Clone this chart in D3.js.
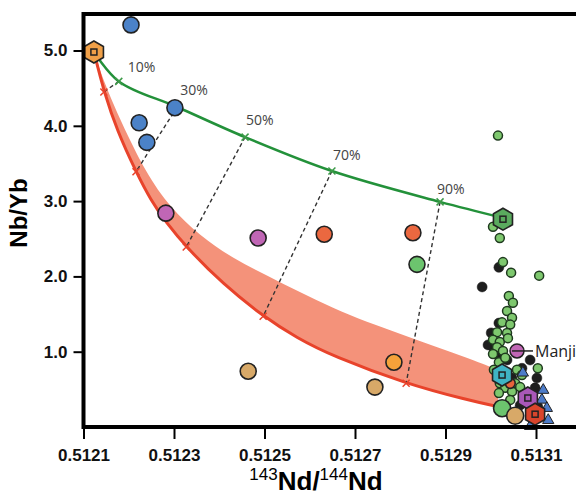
<!DOCTYPE html>
<html>
<head>
<meta charset="utf-8">
<script src="https://cdn.jsdelivr.net/npm/d3@7"></script>
<style>
  body { margin: 0; background: #fff; }
  svg { display: block; }
</style>
</head>
<body>
<script>
// mixing curves [143Nd/144Nd, Nb/Yb]
const greenCurve = [
  [0.512121, 5.0], [0.512178, 4.59], [0.512307, 4.25], [0.512457, 3.85],
  [0.512649, 3.40], [0.512888, 2.99], [0.513025, 2.78]
];
const redCurve = [
  [0.512121, 5.01], [0.512128, 4.87], [0.512145, 4.46], [0.512174, 3.94],
  [0.512216, 3.39], [0.512249, 3.01], [0.512282, 2.72], [0.512327, 2.39],
  [0.512408, 1.90], [0.512497, 1.47], [0.512572, 1.18], [0.512651, 0.94],
  [0.51281, 0.58], [0.512948, 0.36], [0.513016, 0.27]
];
const bandTop = [
  [0.512121, 5.01], [0.512148, 4.54], [0.512181, 4.08], [0.512238, 3.37],
  [0.512291, 2.92], [0.512357, 2.54], [0.51243, 2.24], [0.512506, 2.01],
  [0.512578, 1.79], [0.512651, 1.58], [0.512727, 1.39], [0.512799, 1.24],
  [0.512872, 1.08], [0.512948, 0.92], [0.513016, 0.76]
];
// 10/30/50/70/90 % ticks on each curve
const greenTicks = [[0.512178, 4.59], [0.512307, 4.25], [0.512457, 3.85], [0.512649, 3.40], [0.512888, 2.99]];
const redTicks = [[0.512145, 4.45], [0.512216, 3.39], [0.512327, 2.39], [0.512497, 1.47], [0.512813, 0.58]];
const pctLabels = ["10%", "30%", "50%", "70%", "90%"];

// samples
const bluePts = [[0.512205, 5.34], [0.512223, 4.04], [0.51224, 3.78], [0.512302, 4.24]];
const purplePts = [[0.512282, 2.84], [0.512486, 2.51]];
const redPts = [[0.512632, 2.56], [0.512828, 2.58]];
const greenPts = [[0.512837, 2.16]];
const orangePts = [[0.512786, 0.86]];
const tanPts = [[0.512464, 0.74], [0.512744, 0.53]];

const smallGreen = [
  [0.513016, 3.87], [0.513005, 2.66], [0.51302, 2.51], [0.513027, 2.19], [0.513045, 2.05],
  [0.513107, 2.01], [0.51304, 1.74], [0.513049, 1.65], [0.513036, 1.54], [0.513047, 1.45],
  [0.513025, 1.39], [0.513043, 1.36], [0.513014, 1.26], [0.513036, 1.25], [0.513005, 1.16],
  [0.51302, 1.13], [0.513038, 1.18], [0.513014, 1.06], [0.513027, 1.01], [0.513005, 0.97],
  [0.513018, 0.86], [0.513032, 0.92], [0.513104, 0.78], [0.513058, 0.76], [0.513069, 0.69],
  [0.51302, 0.58], [0.513032, 0.52], [0.513018, 0.45], [0.513047, 0.47], [0.513054, 0.58],
  [0.513065, 0.53], [0.513043, 0.36], [0.513007, 0.76], [0.513074, 0.43]
];
const smallBlack = [
  [0.512981, 1.86], [0.513018, 2.12], [0.513018, 1.38], [0.513001, 1.25], [0.513005, 1.06],
  [0.51302, 0.93], [0.513036, 0.89], [0.513087, 0.89], [0.513069, 0.78], [0.513102, 0.65],
  [0.513047, 0.65], [0.513098, 0.52], [0.513104, 0.27], [0.513087, 0.42], [0.513065, 0.29],
  [0.512994, 1.09]
];
const blueTri = [[0.513071, 0.72], [0.513116, 0.49], [0.513113, 0.36], [0.513124, 0.25], [0.513087, 0.01], [0.513127, 0.09]];
const clusterBig = [
  { v: [0.513043, 0.58], c: "#e8643c", r: 5 },
  { v: [0.513025, 0.25], c: "#6cc46e", r: 8.5 },
  { v: [0.513054, 0.15], c: "#d8a968", r: 8.5 }
];
const manji = [0.513058, 1.01];
const hexes = [
  { v: [0.512123, 4.98], c: "#f0a048" },
  { v: [0.513027, 2.76], c: "#5aaa5e" },
  { v: [0.513025, 0.69], c: "#3fb4c4" },
  { v: [0.513082, 0.385], c: "#a958b8" },
  { v: [0.513098, 0.17], c: "#d9452c" }
];

const xTicks = [0.5121, 0.5123, 0.5125, 0.5127, 0.5129, 0.5131];
const yTicks = [1, 2, 3, 4, 5];

const width = 576, height = 500;
const svg = d3.select("body").append("svg")
  .attr("width", width).attr("height", height)
  .attr("viewBox", [0, 0, width, height]);

const x = d3.scaleLinear().domain([0.5121, 0.5132]).range([83.5, 581.25]);
const y = d3.scaleLinear().domain([0, 5.485]).range([427, 14]);
const px = (d) => [x(d[0]), y(d[1])];

const plot = svg.append("g");

// salmon band between the red curve and its upper limit
const lineCR = d3.line().x((d) => x(d[0])).y((d) => y(d[1])).curve(d3.curveCatmullRom);
const lineB = d3.line().x((d) => x(d[0])).y((d) => y(d[1])).curve(d3.curveBasis);
plot.append("path")
  .attr("d", lineB(bandTop) + lineB(redCurve.slice().reverse()).replace(/^M/, "L") + "Z")
  .attr("fill", "#f4927a")
  .attr("stroke", "none");

plot.append("path")
  .attr("d", lineB(redCurve))
  .attr("fill", "none")
  .attr("stroke", "#e8432b")
  .attr("stroke-width", 3);

plot.append("path")
  .attr("d", lineCR(greenCurve))
  .attr("fill", "none")
  .attr("stroke", "#23913a")
  .attr("stroke-width", 2.5);

// tie lines between equal fractions
plot.selectAll(".tie")
  .data(d3.zip(greenTicks, redTicks))
  .join("line")
  .attr("x1", (d) => x(d[0][0])).attr("y1", (d) => y(d[0][1]))
  .attr("x2", (d) => x(d[1][0])).attr("y2", (d) => y(d[1][1]))
  .attr("stroke", "#333")
  .attr("stroke-width", 1.4)
  .attr("stroke-dasharray", "4,3");

const cross = "M-3.5,-3.5L3.5,3.5M-3.5,3.5L3.5,-3.5";
plot.selectAll(".gt").data(greenTicks).join("path")
  .attr("transform", (d) => `translate(${px(d)})`)
  .attr("d", cross).attr("stroke", "#3c9a48").attr("stroke-width", 1.5);
plot.selectAll(".rt").data(redTicks).join("path")
  .attr("transform", (d) => `translate(${px(d)})`)
  .attr("d", cross).attr("stroke", "#e8432b").attr("stroke-width", 1.5);

const pctNudge = [[9, -9], [3, -12], [1, -12], [1, -11], [-3, -8]];
plot.selectAll(".pct").data(pctLabels).join("text")
  .attr("x", (d, i) => x(greenTicks[i][0]) + pctNudge[i][0])
  .attr("y", (d, i) => y(greenTicks[i][1]) + pctNudge[i][1])
  .attr("font-family", "'Open Sans', sans-serif")
  .attr("font-size", 14)
  .attr("fill", "#444")
  .text((d) => d);

function dots(data, fill, r, stroke = "#222", sw = 1.6) {
  plot.append("g").selectAll("circle").data(data).join("circle")
    .attr("cx", (d) => x(d[0])).attr("cy", (d) => y(d[1]))
    .attr("r", r).attr("fill", fill)
    .attr("stroke", stroke).attr("stroke-width", sw);
}

dots(bluePts, "#4b82c8", 8);
dots(purplePts, "#c066b5", 8);
dots(redPts, "#eb6840", 8);
dots(greenPts, "#6cc46e", 8);
dots(orangePts, "#f5a23a", 8);
dots(tanPts, "#d8a968", 8);

// MORB-like cluster
dots(smallBlack, "#1e1e1e", 5, "#1e1e1e", 0.5);
dots(smallGreen, "#7ec86e", 4.5, "#1f3a1f", 1.5);

plot.append("g").selectAll("path").data(blueTri).join("path")
  .attr("transform", (d) => `translate(${px(d)})`)
  .attr("d", d3.symbol(d3.symbolTriangle, 55))
  .attr("fill", "#4d7cc9").attr("stroke", "#222").attr("stroke-width", 1);

plot.append("g").selectAll("circle").data(clusterBig).join("circle")
  .attr("cx", (d) => x(d.v[0])).attr("cy", (d) => y(d.v[1]))
  .attr("r", (d) => d.r).attr("fill", (d) => d.c)
  .attr("stroke", "#222").attr("stroke-width", 1.6);

const hexPts = d3.range(6).map((k) => {
  const a = (Math.PI / 180) * (60 * k - 90);
  return [11 * Math.cos(a), 11 * Math.sin(a)];
});
const hex = plot.append("g").selectAll("g").data(hexes).join("g")
  .attr("transform", (d) => `translate(${px(d.v)})`);
hex.append("path")
  .attr("d", d3.line()(hexPts) + "Z")
  .attr("fill", (d) => d.c).attr("stroke", "#222").attr("stroke-width", 1.6);
hex.append("rect")
  .attr("x", -3).attr("y", -3).attr("width", 6).attr("height", 6)
  .attr("fill", "none").attr("stroke", "#222").attr("stroke-width", 1.5);

// Manji
plot.append("circle")
  .attr("cx", x(manji[0])).attr("cy", y(manji[1])).attr("r", 7)
  .attr("fill", "#c066b5").attr("stroke", "#222").attr("stroke-width", 1.5);
plot.append("line")
  .attr("x1", x(manji[0]) - 5).attr("y1", y(manji[1]))
  .attr("x2", x(manji[0]) + 16).attr("y2", y(manji[1]))
  .attr("stroke", "#222").attr("stroke-width", 1.5);
plot.append("text")
  .attr("x", x(manji[0]) + 18).attr("y", y(manji[1]) + 6)
  .attr("font-family", "'Open Sans', sans-serif")
  .attr("font-size", 16)
  .attr("fill", "#222")
  .text("Manji");

// axes
const xAxis = svg.append("g")
  .attr("transform", `translate(0,${y(0)})`)
  .call(d3.axisBottom(x).tickValues(xTicks).tickSize(12).tickPadding(10).tickFormat(d3.format(".4f")));
const yAxis = svg.append("g")
  .attr("transform", `translate(${x(0.5121)},0)`)
  .call(d3.axisLeft(y).tickValues(yTicks).tickSize(10).tickPadding(6).tickFormat(d3.format(".1f")));
[xAxis, yAxis].forEach((g) => {
  g.select(".domain").remove();
  g.selectAll(".tick line").attr("stroke", "#000").attr("stroke-width", 2);
  g.selectAll(".tick text")
    .attr("font-family", "'Liberation Sans', Arial, sans-serif")
    .attr("font-weight", "bold")
    .attr("font-size", 17)
    .attr("fill", "#111");
});

// frame
const x0 = x(0.5121), yb = y(0), yt = y(5.485);
svg.append("path")
  .attr("d", `M${width + 20},${yt}H${x0}V${yb}H${width + 20}`)
  .attr("fill", "none")
  .attr("stroke", "#000")
  .attr("stroke-width", 4);

// titles
svg.append("text")
  .attr("transform", "translate(27,213) rotate(-90)")
  .attr("text-anchor", "middle")
  .attr("font-family", "'Liberation Sans', Arial, sans-serif")
  .attr("font-weight", "bold")
  .attr("font-size", 24)
  .text("Nb/Yb");

const xt = svg.append("text")
  .attr("x", 316).attr("y", 490)
  .attr("text-anchor", "middle")
  .attr("font-family", "'Liberation Sans', Arial, sans-serif")
  .attr("font-weight", "bold")
  .attr("font-size", 26);
xt.append("tspan").attr("font-size", 17).attr("font-weight", "normal").attr("dy", -10).text("143");
xt.append("tspan").attr("dy", 10).text("Nd/");
xt.append("tspan").attr("font-size", 17).attr("font-weight", "normal").attr("dy", -10).text("144");
xt.append("tspan").attr("dy", 10).text("Nd");
</script>
</body>
</html>
